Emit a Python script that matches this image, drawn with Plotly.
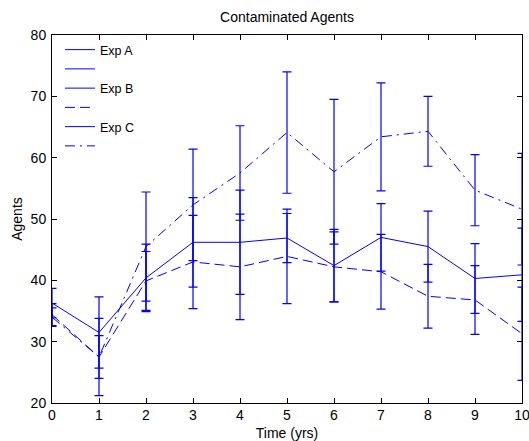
import plotly.graph_objects as go

# ---- data ----
years = [0, 1, 2, 3, 4, 5, 6, 7, 8, 9, 10]

exp_a_mean = [36.3, 31.5, 40.4, 46.2, 46.2, 46.9, 42.4, 47.0, 45.5, 40.3, 40.9]
exp_a_err = [2.4, 5.8, 5.5, 7.3, 8.5, 4.0, 5.9, 5.5, 5.8, 5.7, 7.6]

exp_b_mean = [34.4, 27.5, 39.9, 43.0, 42.2, 43.9, 42.2, 41.4, 37.4, 36.8, 31.3]
exp_b_err = [1.8, 6.3, 4.8, 7.6, 8.6, 7.7, 5.7, 6.1, 5.2, 5.6, 7.6]

exp_c_mean = [34.0, 27.5, 45.5, 52.3, 57.5, 64.1, 57.7, 63.4, 64.3, 54.7, 51.6]
exp_c_err = [1.5, 3.5, 8.9, 9.1, 7.7, 9.9, 11.8, 8.8, 5.7, 5.8, 9.1]

series_names = ["Exp A", "Exp B", "Exp C"]
x_ticks = [0, 1, 2, 3, 4, 5, 6, 7, 8, 9, 10]
y_ticks = [20, 30, 40, 50, 60, 70, 80]

BLUE = "#0000FF"
FONT = "Liberation Sans, Arial, Helvetica, sans-serif"
DASH = "10px,5px"
DASHDOT = "10px,5px,2px,5px"

series = [
    (series_names[0], exp_a_mean, exp_a_err, "solid"),
    (series_names[1], exp_b_mean, exp_b_err, DASH),
    (series_names[2], exp_c_mean, exp_c_err, DASHDOT),
]

fig = go.Figure()

for name, mean, err, dash in series:
    fig.add_trace(go.Scatter(
        x=years, y=mean, mode="lines",
        line=dict(color=BLUE, width=1, dash=dash),
        error_y=dict(type="data", array=err, visible=True,
                     color=BLUE, thickness=1.2, width=4.5),
        showlegend=False, legendgroup=name, name=name,
    ))

# legend entries (MATLAB-style: errorbar handle + line handle per series)
for name, mean, err, dash in series:
    fig.add_trace(go.Scatter(
        x=[None], y=[None], mode="lines",
        line=dict(color=BLUE, width=1, dash="solid"),
        name=name, legendgroup=name, showlegend=True,
    ))
    fig.add_trace(go.Scatter(
        x=[None], y=[None], mode="lines",
        line=dict(color=BLUE, width=1, dash=dash),
        name=" ", legendgroup=name, showlegend=True,
    ))

axis_common = dict(
    showline=True, linecolor="black", linewidth=1, mirror="ticks",
    ticks="inside", ticklen=5, tickcolor="black", tickwidth=1,
    showgrid=False, zeroline=False, automargin=False,
    ticklabeloverflow="allow",
    tickfont=dict(family=FONT, size=14, color="black"),
)

fig.update_xaxes(
    range=[0, 10], tickvals=x_ticks, ticklabelstandoff=-1,
    title=dict(text="Time (yrs)", font=dict(family=FONT, size=14, color="black"), standoff=8),
    **axis_common,
)
fig.update_yaxes(
    range=[20, 80], tickvals=y_ticks, ticklabelstandoff=2,
    title=dict(text="Agents", font=dict(family=FONT, size=14, color="black"), standoff=4),
    **axis_common,
)

fig.update_layout(
    width=529, height=441,
    margin=dict(l=52, r=7, t=35, b=38),
    paper_bgcolor="white", plot_bgcolor="white",
    title=dict(text="Contaminated Agents", x=0.5, xref="paper",
               y=1 - 17 / 441, yref="container", yanchor="middle",
               font=dict(family=FONT, size=14, color="black")),
    legend=dict(x=0.017, y=1.0, xanchor="left", yanchor="top",
                bgcolor="rgba(255,255,255,0)", borderwidth=0,
                font=dict(family=FONT, size=12.5, color="black"),
                tracegroupgap=0),
    showlegend=True,
)

fig.write_html("out.html", config={"displayModeBar": False},
               post_script="document.body.style.margin='0';")
